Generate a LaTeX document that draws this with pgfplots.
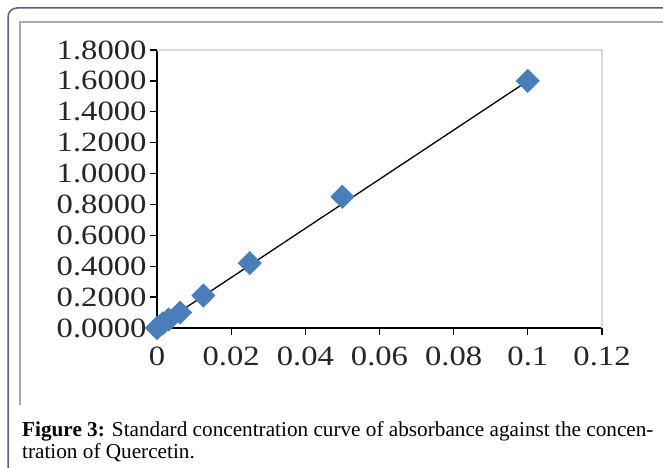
\documentclass[border=0pt]{standalone}
\usepackage{fontspec}
\setmainfont{Liberation Serif}
\newfontfamily\tickfont[FakeStretch=1.17]{Liberation Serif}
\usepackage{pgfplots}
\pgfplotsset{compat=1.18}

\definecolor{frameblue}{RGB}{92,92,140}
\definecolor{boxgray}{RGB}{170,170,170}
\definecolor{markblue}{RGB}{74,126,187}

\begin{document}
\begin{tikzpicture}[x=1bp,y=1bp]
  \clip (0,0) rectangle (663,468);
  % page frame and figure box
  \draw[frameblue, line width=1.5bp, rounded corners=9bp] (8,-30) -- (8,460) -- (720,460);
  \draw[boxgray, line width=2bp] (20,63) -- (20,446) -- (663,446);

  \begin{axis}[
      at={(157bp,140bp)}, anchor=south west,
      scale only axis,
      width=445bp, height=278bp,
      xmin=0, xmax=0.12,
      ymin=0, ymax=1.8,
      axis x line*=bottom,
      axis y line*=left,
      axis line style={black, line width=1.3bp, -},
      tick style={black, line width=1.3bp},
      tick align=outside,
      major tick length=7bp,
      xtick={0,0.02,0.04,0.06,0.08,0.1,0.12},
      xticklabels={0,0.02,0.04,0.06,0.08,0.1,0.12},
      ytick={0,0.2,0.4,0.6,0.8,1.0,1.2,1.4,1.6,1.8},
      yticklabels={0.0000,0.2000,0.4000,0.6000,0.8000,1.0000,1.2000,1.4000,1.6000,1.8000},
      ticklabel style={font=\fontsize{28}{28}\selectfont\tickfont, text=black!85},
      xticklabel style={yshift=-8bp},
      yticklabel style={xshift=0bp},
      clip=false,
    ]
    \draw[black!15, line width=1.3bp] (rel axis cs:0,1) -- (rel axis cs:1,1) -- (rel axis cs:1,0);

    % measured absorbance
    \addplot[only marks, mark=square*, mark size=8.3bp,
      mark options={rotate=45, fill=markblue, draw=markblue}]
      coordinates {
        (0,0)
        (0.0015625,0.03)
        (0.003125,0.055)
        (0.00625,0.10)
        (0.0125,0.21)
        (0.025,0.42)
        (0.05,0.85)
        (0.1,1.60)
      };

    % linear fit
    \addplot[black, line width=1.3bp, mark=none]
      coordinates {(0,0.008) (0.1,1.60)};
  \end{axis}

  \node[anchor=base west, inner sep=0pt, font=\fontsize{21.3}{24}\selectfont]
    at (22,31) {\textbf{Figure 3:} Standard concentration curve of absorbance against the concen-};
  \node[anchor=base west, inner sep=0pt, font=\fontsize{21.3}{24}\selectfont]
    at (22,9) {tration of Quercetin.};
\end{tikzpicture}
\end{document}
